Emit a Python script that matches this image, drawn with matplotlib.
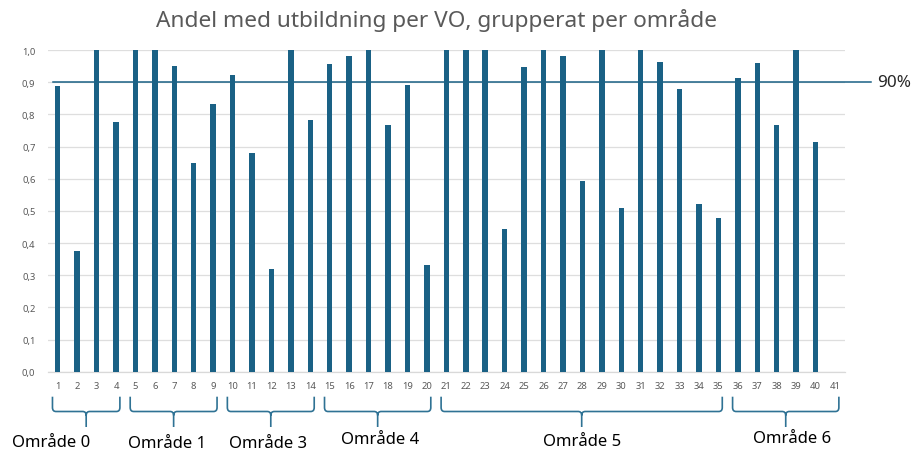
import matplotlib
matplotlib.use("Agg")
import matplotlib.pyplot as plt
import numpy as np
from matplotlib.path import Path
from matplotlib.patches import PathPatch
from matplotlib.transforms import blended_transform_factory

# Data
vo = list(range(1, 42))
andel = [0.887, 0.375, 1.0, 0.776, 1.0, 1.0, 0.949, 0.650, 0.833,
         0.921, 0.680, 0.320, 1.0, 0.783,
         0.955, 0.980, 1.0, 0.768, 0.890, 0.333,
         1.0, 1.0, 1.0, 0.443, 0.946, 1.0, 0.980, 0.594, 1.0, 0.510,
         1.0, 0.962, 0.879, 0.522, 0.479,
         0.913, 0.959, 0.768, 1.0, 0.713, 0.0]
malniva = 0.9
malniva_text = "90%"

omraden = ["Område 0", "Område 1", "Område 3", "Område 4", "Område 5", "Område 6"]
forsta_vo = [1, 5, 10, 15, 21, 36]
sista_vo = [4, 9, 14, 20, 35, 41]

titel = "Andel med utbildning per VO, grupperat per område"
y_ticks = [0.0, 0.1, 0.2, 0.3, 0.4, 0.5, 0.6, 0.7, 0.8, 0.9, 1.0]

# Style / layout
W, H = 915, 452
bar_color = "#1a6185"
brace_color = "#2f7294"
grey = "#595959"
plt.rcParams["font.family"] = ["Noto Sans", "DejaVu Sans"]

# label offsets (in categories) and vertical pixel centres for the area names
label_dx = [-1.8, -0.34, -0.14, 0.15, 0.0, 0.33]
label_py = [443, 444.5, 444.5, 440, 442, 439]

fig = plt.figure(figsize=(W / 100, H / 100), dpi=100, facecolor="white")
ax = fig.add_axes([48 / W, 1 - 372.7 / H, 796.7 / W, 321.7 / H])

ax.bar(vo, andel, width=0.28, color=bar_color, linewidth=0, zorder=3)

ax.set_xlim(0.5, 41.5)
ax.set_ylim(0, 1.0)
ax.set_yticks(y_ticks)
ax.set_yticklabels([f"{v:.1f}".replace(".", ",") for v in y_ticks])
ax.set_xticks(vo)
ax.set_xticklabels([str(v) for v in vo])
ax.tick_params(axis="both", length=0, labelsize=6.8, labelcolor=grey)
ax.tick_params(axis="y", pad=9)
ax.tick_params(axis="x", pad=7)
ax.grid(axis="y", color="#dedede", linewidth=0.9, zorder=0)
for s in ["top", "right", "left"]:
    ax.spines[s].set_visible(False)
ax.spines["bottom"].set_color("#d9d9d9")
ax.spines["bottom"].set_linewidth(0.9)

# 90% line
ax.axhline(malniva, xmin=0.006, xmax=1.033, color=bar_color, linewidth=1.1,
           clip_on=False, zorder=4)
ax.text(1.041, malniva, malniva_text, transform=ax.get_yaxis_transform(),
        ha="left", va="center", fontsize=12.3, color="#262626")

fig.text(437 / W, 1 - 20 / H, titel, ha="center", va="center",
         fontsize=16.3, color=grey)

# Braces under the axis
trans = blended_transform_factory(ax.transData, fig.transFigure)
yt = 1 - 397.7 / H
ym = 1 - 412.5 / H
yb = 1 - 428 / H
rx = 0.18
ry = 4 / H
for name, a, b, dx, py in zip(omraden, forsta_vo, sista_vo, label_dx, label_py):
    x0 = a - 0.27
    x1 = b + 0.2
    xc = (x0 + x1) / 2
    verts = [
        (x0, yt), (x0, ym + ry), (x0, ym), (x0 + rx, ym),
        (xc - rx, ym), (xc, ym), (xc, ym - ry), (xc, yb),
        (x1, yt), (x1, ym + ry), (x1, ym), (x1 - rx, ym),
        (xc + rx, ym), (xc, ym), (xc, ym - ry),
    ]
    codes = [
        Path.MOVETO, Path.LINETO, Path.CURVE3, Path.CURVE3,
        Path.LINETO, Path.CURVE3, Path.CURVE3, Path.LINETO,
        Path.MOVETO, Path.LINETO, Path.CURVE3, Path.CURVE3,
        Path.LINETO, Path.CURVE3, Path.CURVE3,
    ]
    ax.add_patch(PathPatch(Path(verts, codes), transform=trans, facecolor="none",
                           edgecolor=brace_color, linewidth=1.2, clip_on=False))
    ax.text(xc + dx, 1 - py / H, name, transform=trans, ha="center", va="center",
            fontsize=12, color="black")

fig.savefig("out.png", dpi=100)
